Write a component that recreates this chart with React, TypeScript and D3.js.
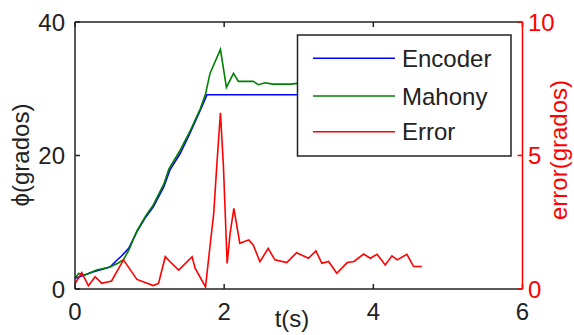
import React from "react";
import * as d3 from "d3";

// Encoder vs Mahony filter roll angle, and their absolute error
const encT = [0, 0.1, 0.25, 0.47, 0.55, 0.62, 0.72, 0.83, 0.95, 1.05, 1.19, 1.275, 1.41, 1.54, 1.68, 1.77, 2.5, 3.5, 4.65];
const encV = [1.6, 2.0, 2.6, 3.3, 4.2, 4.9, 6.1, 8.6, 10.8, 12.3, 15.3, 17.9, 20.3, 23.3, 26.8, 29.1, 29.1, 29.1, 29.1];

const mahT = [0, 0.05, 0.13, 0.29, 0.47, 0.58, 0.65, 0.72, 0.83, 0.95, 1.05, 1.19, 1.26, 1.4, 1.54, 1.68, 1.75, 1.81, 1.95, 2.03, 2.125, 2.19, 2.39, 2.46, 2.55, 2.65, 2.89, 2.98, 3.3, 3.7, 4.1, 4.65];
const mahV = [1.6, 2.35, 2.1, 2.85, 3.3, 3.9, 4.4, 5.8, 8.7, 11.0, 12.6, 15.7, 18.0, 20.6, 23.6, 27.0, 29.2, 32.3, 35.9, 30.2, 32.3, 31.1, 31.1, 30.6, 30.9, 30.7, 30.7, 30.8, 30.6, 30.8, 30.7, 30.6];

const errT = [0, 0.09, 0.18, 0.27, 0.36, 0.49, 0.65, 0.83, 1.05, 1.12, 1.21, 1.275, 1.39, 1.57, 1.61, 1.75, 1.81, 1.86, 1.9, 1.95, 1.99, 2.04, 2.08, 2.13, 2.21, 2.33, 2.39, 2.48, 2.59, 2.68, 2.84, 2.97, 3.13, 3.23, 3.31, 3.4, 3.51, 3.65, 3.74, 3.87, 3.96, 4.05, 4.16, 4.25, 4.32, 4.45, 4.54, 4.65];
const errV = [0.2, 0.61, 0.12, 0.46, 0.21, 0.3, 1.09, 0.36, 0.13, 0.21, 1.21, 1.02, 0.71, 1.21, 0.78, 0.08, 1.6, 2.83, 4.58, 6.6, 4.6, 0.96, 2.09, 3.02, 1.71, 1.84, 1.65, 1.02, 1.52, 1.09, 0.99, 1.36, 1.15, 1.43, 0.96, 1.03, 0.59, 0.99, 1.03, 1.31, 1.15, 1.3, 0.9, 1.24, 1.09, 1.3, 0.84, 0.84];

const xTicks = [0, 2, 4, 6];
const yLeftTicks = [0, 20, 40];
const yRightTicks = [0, 5, 10];

const legendNames = ["Encoder", "Mahony", "Error"];
const legendColors = ["#0000ff", "#008000", "#ff0000"];

const W = 574;
const H = 335;
const L = 75;
const R = 522.5;
const T = 22;
const B = 289;

const FONT = "'Liberation Sans', Arial, sans-serif";
const FS = 24;
const INK = "#222";

export default function App() {
  const x = d3.scaleLinear().domain([0, 6]).range([L, R]);
  const yL = d3.scaleLinear().domain([0, 40]).range([B, T]);
  const yR = d3.scaleLinear().domain([0, 10]).range([B, T]);

  const lineL = d3
    .line<[number, number]>()
    .x((d) => x(d[0]))
    .y((d) => yL(d[1]));
  const lineR = d3
    .line<[number, number]>()
    .x((d) => x(d[0]))
    .y((d) => yR(d[1]));

  const enc = encT.map((t, i) => [t, encV[i]] as [number, number]);
  const mah = mahT.map((t, i) => [t, mahV[i]] as [number, number]);
  const err = errT.map((t, i) => [t, errV[i]] as [number, number]);

  const tickLen = 5;
  const legX = 297.5;
  const legY = 35;
  const legW = 213.5;
  const legH = 121;
  const rowY = [58.3, 96, 131.7];

  return (
    <svg
      width={W}
      height={H}
      style={{ position: "absolute", left: 0, top: 0, background: "#fff" }}
      fontFamily={FONT}
    >
      <rect x={0} y={0} width={W} height={H} fill="#fff" />

      {/* data lines */}
      <path d={lineL(enc) || ""} fill="none" stroke="#0000ff" strokeWidth={1.6} />
      <path d={lineL(mah) || ""} fill="none" stroke="#008000" strokeWidth={1.6} />
      <path d={lineR(err) || ""} fill="none" stroke="#ff0000" strokeWidth={1.6} />

      {/* axes box */}
      <line x1={L} y1={T} x2={L} y2={B} stroke={INK} strokeWidth={1.5} />
      <line x1={L} y1={B} x2={R} y2={B} stroke={INK} strokeWidth={1.5} />
      <line x1={L} y1={T} x2={R} y2={T} stroke={INK} strokeWidth={1.5} />

      {/* x ticks */}
      {xTicks.map((v) => (
        <g key={"x" + v}>
          <line x1={x(v)} y1={B} x2={x(v)} y2={B - tickLen} stroke={INK} strokeWidth={1.5} />
          <line x1={x(v)} y1={T} x2={x(v)} y2={T + tickLen} stroke={INK} strokeWidth={1.5} />
          <text x={x(v)} y={320} fontSize={FS} textAnchor="middle" fill={INK}>
            {v}
          </text>
        </g>
      ))}

      {/* left y ticks */}
      {yLeftTicks.map((v) => (
        <g key={"yl" + v}>
          <line x1={L} y1={yL(v)} x2={L + tickLen} y2={yL(v)} stroke={INK} strokeWidth={1.5} />
          <text x={65} y={yL(v) + 8.5} fontSize={FS} textAnchor="end" fill={INK}>
            {v}
          </text>
        </g>
      ))}

      {/* right y axis */}
      <line x1={R} y1={T} x2={R} y2={B} stroke="#ff0000" strokeWidth={1.5} />
      {yRightTicks.map((v) => (
        <g key={"yr" + v}>
          <line x1={R} y1={yR(v)} x2={R - tickLen} y2={yR(v)} stroke="#ff0000" strokeWidth={1.5} />
          <text x={528} y={yR(v) + 8.5} fontSize={FS} textAnchor="start" fill="#ff0000">
            {v}
          </text>
        </g>
      ))}

      {/* axis labels */}
      <text x={292} y={327} fontSize={FS} textAnchor="middle" fill={INK}>
        t(s)
      </text>
      <text
        transform={`translate(29,155) rotate(-90)`}
        fontSize={FS}
        textAnchor="middle"
        fill={INK}
      >
        ϕ(grados)
      </text>
      <text
        transform={`translate(567,150) rotate(-90)`}
        fontSize={FS}
        textAnchor="middle"
        fill="#ff0000"
      >
        error(grados)
      </text>

      {/* legend */}
      <rect x={legX} y={legY} width={legW} height={legH} fill="#fff" stroke={INK} strokeWidth={1.5} />
      {legendNames.map((name, i) => (
        <g key={name}>
          <line x1={313} y1={rowY[i]} x2={395} y2={rowY[i]} stroke={legendColors[i]} strokeWidth={1.6} />
          <text x={402} y={rowY[i] + 8.6} fontSize={FS} fill={INK}>
            {name}
          </text>
        </g>
      ))}
    </svg>
  );
}
